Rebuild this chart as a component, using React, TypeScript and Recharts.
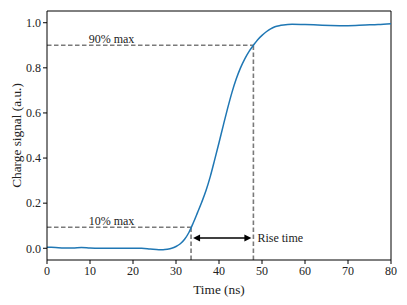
import { LineChart, Line, XAxis, YAxis, ReferenceLine, ReferenceDot } from "recharts";

// time (ns) and charge signal (a.u.)
const times = [
  0, 2, 4, 6, 8, 10, 12, 14, 16, 18, 20, 22, 24, 26, 27, 28, 29, 30, 31, 32, 33, 34, 35, 36, 37, 38, 39, 40,
  41, 42, 43, 44, 45, 46, 47, 48, 49, 50, 51, 52, 53, 54, 55, 56, 57, 60, 63, 66, 70, 74, 77, 80,
];
const signal = [
  0.005, 0.003, 0.001, 0.001, 0.003, 0.001, 0.0, 0.0, 0.0, 0.0, 0.0, 0.0, -0.003, -0.006, -0.006, -0.004,
  0.0, 0.008, 0.02, 0.04, 0.07, 0.112, 0.158, 0.205, 0.257, 0.32, 0.393, 0.468, 0.545, 0.62, 0.69, 0.75,
  0.8, 0.84, 0.873, 0.9, 0.925, 0.944, 0.96, 0.973, 0.982, 0.987, 0.99, 0.992, 0.993, 0.992, 0.99, 0.988,
  0.987, 0.99, 0.992, 0.996,
];

const xTicks = [0, 10, 20, 30, 40, 50, 60, 70, 80];
const yTicks = [0, 0.2, 0.4, 0.6, 0.8, 1.0];

// rise-time annotation: 10% / 90% crossings
const lowLevel = 0.093;
const highLevel = 0.9;
const tLow = 33.5;
const tHigh = 48.0;
const arrowLevel = 0.045;

const yMin = -0.052;
const yMax = 1.052;

const data = times.map((t, i) => ({ t, v: signal[i] }));

const font = "'Liberation Serif', 'DejaVu Serif', serif";
const dashed = { stroke: "#7a7a7a", strokeWidth: 1.6, strokeDasharray: "4.5 2.5" };

const Arrow = (props: any) => {
  const { x1, y1, x2 } = props;
  const y = y1;
  const a = x1 + 2;
  const b = x2 - 2;
  return (
    <g>
      <line x1={a + 5} y1={y} x2={b - 5} y2={y} stroke="#000" strokeWidth={1.5} />
      <polygon points={`${a},${y} ${a + 7},${y - 3.5} ${a + 7},${y + 3.5}`} fill="#000" />
      <polygon points={`${b},${y} ${b - 7},${y - 3.5} ${b - 7},${y + 3.5}`} fill="#000" />
    </g>
  );
};

const App = () => {
  return (
    <div style={{ width: 390, height: 290, fontFamily: font }}>
      <LineChart width={390} height={290} data={data} margin={{ top: 3, right: 7, left: 4, bottom: 2 }}>
        <XAxis
          dataKey="t"
          type="number"
          domain={[0, 80]}
          ticks={xTicks}
          allowDataOverflow
          height={36}
          tickSize={4}
          tickMargin={2}
          stroke="#000"
          tick={{ fill: "#222", fontSize: 12, fontFamily: font }}
          label={{ value: "Time (ns)", position: "insideBottom", offset: 2, fill: "#222", fontSize: 13.3, fontFamily: font }}
        />
        <YAxis
          type="number"
          domain={[yMin, yMax]}
          ticks={yTicks}
          allowDataOverflow
          width={35}
          tickSize={4}
          tickMargin={2}
          stroke="#000"
          tickFormatter={(v: number) => v.toFixed(1)}
          tick={{ fill: "#222", fontSize: 12, fontFamily: font }}
          label={{
            value: "Charge signal (a.u.)",
            angle: -90,
            position: "insideLeft",
            offset: 4,
            style: { textAnchor: "middle" },
            fill: "#222",
            fontSize: 13.3,
            fontFamily: font,
          }}
        />
        <ReferenceLine x={80} stroke="#000" strokeWidth={1} />
        <ReferenceLine y={yMax} stroke="#000" strokeWidth={1} />

        <ReferenceLine segment={[{ x: 0, y: highLevel }, { x: tHigh, y: highLevel }]} {...dashed} />
        <ReferenceLine segment={[{ x: 0, y: lowLevel }, { x: tLow, y: lowLevel }]} {...dashed} />
        <ReferenceLine segment={[{ x: tHigh, y: yMin }, { x: tHigh, y: highLevel }]} {...dashed} />
        <ReferenceLine segment={[{ x: tLow, y: yMin }, { x: tLow, y: lowLevel }]} {...dashed} />
        <ReferenceLine segment={[{ x: tLow, y: arrowLevel }, { x: tHigh, y: arrowLevel }]} shape={Arrow} />

        <ReferenceDot
          x={15}
          y={highLevel}
          r={0}
          stroke="none"
          label={{ value: "90% max", position: "top", offset: 2, fill: "#222", fontSize: 12, fontFamily: font }}
        />
        <ReferenceDot
          x={15}
          y={lowLevel}
          r={0}
          stroke="none"
          label={{ value: "10% max", position: "top", offset: 2, fill: "#222", fontSize: 12, fontFamily: font }}
        />
        <ReferenceDot
          x={tHigh}
          y={arrowLevel}
          r={0}
          stroke="none"
          label={{ value: "Rise time", position: "right", offset: 4, fill: "#222", fontSize: 12, fontFamily: font }}
        />

        <Line type="monotone" dataKey="v" stroke="#1f77b4" strokeWidth={1.5} dot={false} isAnimationActive={false} />
      </LineChart>
    </div>
  );
};

export default App;
